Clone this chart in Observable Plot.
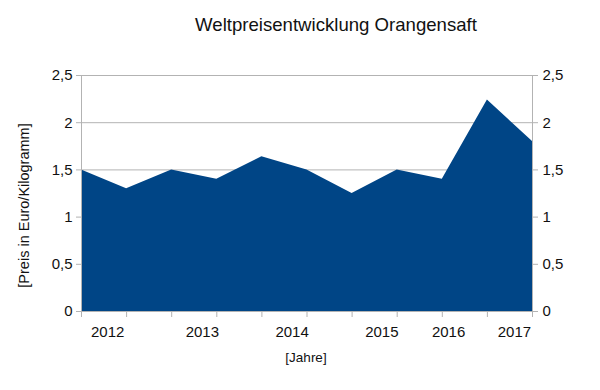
<!DOCTYPE html>
<html>
<head>
<meta charset="utf-8">
<script src="https://cdn.jsdelivr.net/npm/d3@7"></script>
<script src="https://cdn.jsdelivr.net/npm/@observablehq/plot@0.6"></script>
<style>
  html, body { margin: 0; padding: 0; background: #fff; }
  #chart svg { display: block; }
</style>
</head>
<body>
<div id="chart"></div>
<script>
const title = "Weltpreisentwicklung Orangensaft";
const yLabel = "[Preis in Euro/Kilogramm]";
const xLabel = "[Jahre]";
const prices = [1.5, 1.3, 1.5, 1.4, 1.64, 1.5, 1.25, 1.5, 1.4, 2.24, 1.8];
const yearLabels = ["2012", "2013", "2014", "2015", "2016", "2017"];
const yearLabelAt = [0.58, 2.68, 4.67, 6.66, 8.14, 9.6];
const yTicks = [0, 0.5, 1, 1.5, 2, 2.5];

const data = prices.map((v, i) => ({i, v}));
const labels = yearLabels.map((t, k) => ({t, x: yearLabelAt[k]}));
const fmt = d => String(d).replace(".", ",");

const plot = Plot.plot({
  width: 600,
  height: 390,
  marginLeft: 81,
  marginRight: 68,
  marginTop: 75,
  marginBottom: 79,
  style: {fontFamily: "'Liberation Sans', Arial, sans-serif", fontSize: "14px", color: "#111", background: "#fff"},
  x: {type: "linear", domain: [0, 10]},
  y: {type: "linear", domain: [0, 2.5]},
  marks: [
    Plot.gridY(yTicks, {stroke: "#b3b3b3", strokeOpacity: 1}),
    Plot.areaY(data, {x: "i", y: "v", fill: "#004586"}),
    Plot.ruleX([0, 10], {stroke: "#b3b3b3", y1: 0, y2: 2.5}),
    Plot.ruleY([0], {stroke: "#b3b3b3"}),
    Plot.axisY(yTicks, {anchor: "left", tickSize: 5, tickPadding: 4, tickFormat: fmt, stroke: "#b3b3b3", fill: "#111", fontSize: 15, label: null}),
    Plot.axisY(yTicks, {anchor: "right", tickSize: 5, tickPadding: 5, tickFormat: fmt, stroke: "#b3b3b3", fill: "#111", fontSize: 15, label: null}),
    Plot.axisX(data.map(d => d.i), {anchor: "bottom", tickSize: 6, tickFormat: () => "", stroke: "#b3b3b3", label: null}),
    Plot.text(labels, {x: "x", y: 0, text: "t", dy: 21, fontSize: 15, fill: "#111"}),
    Plot.text([title], {frameAnchor: "top", dx: 29, dy: -58, fontSize: 18.6, fill: "#111"}),
    Plot.text([xLabel], {frameAnchor: "bottom", dx: -1, dy: 50, fontSize: 13.5, fill: "#111"}),
    Plot.text([yLabel], {frameAnchor: "left", textAnchor: "middle", dx: -57, dy: 12, rotate: -90, fontSize: 14.5, fill: "#111"})
  ]
});
document.getElementById("chart").append(plot);
</script>
</body>
</html>
